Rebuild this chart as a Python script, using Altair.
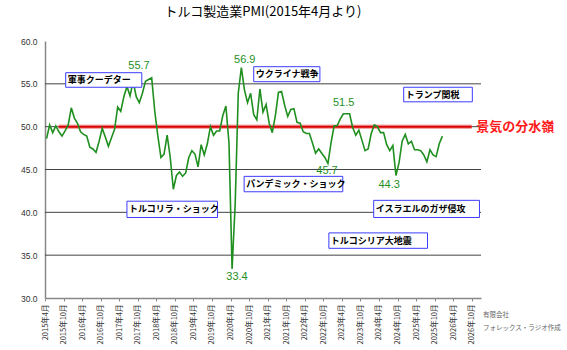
import altair as alt
import pandas as pd

# ---- data (monthly, from 2015年4月) ----
pmi_2015 = [48.6, 50.2, 49.3, 50.1, 49.4, 48.9, 49.5, 50.2, 52.2]
pmi_2016 = [51.0, 50.4, 49.4, 49.1, 48.9, 47.6, 47.4, 47.0, 48.3, 49.8, 48.8, 47.7]
pmi_2017 = [48.7, 49.7, 52.3, 51.8, 53.5, 54.7, 53.6, 55.3, 53.5, 52.8, 53.9, 55.3]
pmi_2018 = [55.5, 55.7, 51.8, 48.9, 46.4, 46.8, 49.0, 46.4, 42.7, 44.3, 44.7, 44.2]
pmi_2019 = [44.6, 46.4, 47.2, 46.8, 45.3, 47.9, 46.7, 48.0, 50.0, 49.0, 49.5, 49.5]
pmi_2020 = [51.3, 52.4, 48.1, 33.4, 40.9, 53.9, 56.9, 54.3, 52.8, 53.9, 51.4, 50.8]
pmi_2021 = [54.4, 51.7, 52.6, 50.4, 49.3, 51.3, 54.0, 54.1, 52.5, 51.2, 52.0, 52.1]
pmi_2022 = [50.5, 50.4, 49.4, 49.2, 49.2, 48.1, 46.9, 47.4, 46.9, 46.4, 45.7, 48.1]
pmi_2023 = [50.1, 50.1, 50.9, 51.5, 51.5, 51.5, 49.9, 49.0, 49.6, 48.4, 47.2, 47.4]
pmi_2024 = [49.2, 50.2, 50.0, 49.3, 49.3, 47.9, 47.2, 47.8, 44.3, 45.8, 48.3, 49.1]
pmi_2025 = [48.0, 48.3, 47.3, 47.3, 47.2, 46.7, 45.9, 47.3, 46.7, 46.5, 48.0, 48.9]

tick_labels = [
    "2015年4月", "2015年10月", "2016年4月", "2016年10月", "2017年4月", "2017年10月",
    "2018年4月", "2018年10月", "2019年4月", "2019年10月", "2020年4月", "2020年10月",
    "2021年4月", "2021年10月", "2022年4月", "2022年10月", "2023年4月", "2023年10月",
    "2024年4月", "2024年10月", "2025年4月", "2025年10月", "2026年4月", "2026年10月",
]
y_ticks = [30, 35, 40, 45, 50, 55, 60]
grid_values = [35, 40, 45, 50, 55]

# value callouts (month index, value position, text)
callout_month = [30.4, 64.6, 62.1, 96.6, 91.2, 111.3]
callout_pos = [57.1, 57.8, 32.5, 52.8, 44.8, 43.2]
callout_text = ["55.7", "56.9", "33.4", "51.5", "45.7", "44.3"]

# event boxes
event_text = ["軍事クーデター", "ウクライナ戦争", "トランプ関税", "トルコリラ・ショック",
              "パンデミック・ショック", "イスラエルのガザ侵攻", "トルコシリア大地震"]
event_m1 = [6.7, 67.5, 116.0, 26.5, 64.4, 106.3, 91.8]
event_m2 = [31.3, 88.9, 138.2, 55.8, 96.3, 140.5, 123.7]
event_v1 = [54.6, 55.25, 52.9, 39.4, 42.4, 39.4, 35.8]
event_v2 = [56.3, 57.0, 54.6, 41.3, 44.2, 41.4, 37.6]

threshold = 50
threshold_start, threshold_end = 4.4, 138.0
threshold_label = "景気の分水嶺"
credit_lines = ["有限会社", "フォレックス・ラジオ作成"]

FONT = "Noto Sans CJK JP"

values = (pmi_2015 + pmi_2016 + pmi_2017 + pmi_2018 + pmi_2019 + pmi_2020 +
          pmi_2021 + pmi_2022 + pmi_2023 + pmi_2024 + pmi_2025)
months = pd.period_range("2015-04", periods=len(values), freq="M")
df = pd.DataFrame({
    "m": [i + 0.5 for i in range(len(values))],
    "pmi": values,
    "label": [f"{p.year}年{p.month}月" for p in months],
})
df_call = pd.DataFrame({"m": callout_month, "v": callout_pos, "t": callout_text})
df_ev = pd.DataFrame({"m1": event_m1, "m2": event_m2, "v1": event_v1, "v2": event_v2,
                      "t": event_text})
df_ev["tv"] = (df_ev["v1"] + df_ev["v2"]) / 2
df_grid = pd.DataFrame({"v": grid_values})
df_thr = pd.DataFrame({"m1": [threshold_start], "m2": [threshold_end], "v": [threshold],
                       "lm": [139.5], "t": [threshold_label]})

xscale = alt.Scale(domain=[0, 141], nice=False, zero=False)
yscale = alt.Scale(domain=[30, 60], nice=False, zero=False)

label_arr = "[" + ",".join(f"'{t}'" for t in tick_labels) + "]"
xaxis = alt.Axis(values=list(range(0, 139, 6)), labelExpr=f"{label_arr}[round(datum.value/6)]",
                 labelAngle=270, labelAlign="right", labelBaseline="middle",
                 labelFontSize=7.5, labelFont=FONT, labelColor="#333", labelPadding=3,
                 tickSize=3, tickColor="#888", domainColor="#888", domainWidth=1.5,
                 grid=False, title=None, labelOverlap=False, labelFlush=False, labelBound=False)
yaxis = alt.Axis(values=y_ticks, format=".1f", grid=False, ticks=False, domainColor="#888",
                 domainWidth=1.5, labelFontSize=8.5, labelFont="Liberation Sans",
                 labelColor="#333", labelPadding=8, title=None, labelOverlap=False)


def X(field):
    return alt.X(field, type="quantitative", scale=xscale, axis=xaxis)


def Y(field):
    return alt.Y(field, type="quantitative", scale=yscale, axis=yaxis)


grid = alt.Chart(df_grid).mark_rule(color="#444", strokeWidth=1).encode(
    y=Y("v")
)
thr_halo = alt.Chart(df_thr).mark_rule(color="#f4a6a6", strokeWidth=4.5).encode(
    x=X("m1"), x2="m2", y=Y("v")
)
thr = alt.Chart(df_thr).mark_rule(color="#d80000", strokeWidth=2).encode(
    x=X("m1"), x2="m2", y=Y("v")
)
thr_text = alt.Chart(df_thr).mark_text(color="#ff1a1a", fontSize=13, font=FONT, align="left",
                                       baseline="middle", fontWeight="bold").encode(
    x=X("lm"), y=Y("v"), text="t:N"
)
line = alt.Chart(df).mark_line(color="#1f8f1f", strokeWidth=1.6).encode(
    x=X("m"), y=Y("pmi")
)
calls = alt.Chart(df_call).mark_text(color="#1f8f1f", fontSize=11, font="Liberation Sans",
                                     baseline="middle").encode(
    x=X("m"), y=Y("v"), text="t:N"
)
boxes = alt.Chart(df_ev).mark_rect(fill="white", stroke="#3c3cff", strokeWidth=1).encode(
    x=X("m1"), x2="m2", y=Y("v1"), y2="v2"
)
box_text = alt.Chart(df_ev).mark_text(fontSize=9, font=FONT, fontWeight="bold", color="black",
                                      align="left", baseline="middle", dx=2).encode(
    x=X("m1"), y=Y("tv"), text="t:N"
)
credit1 = alt.Chart(pd.DataFrame({"t": [credit_lines[0]]})).mark_text(
    fontSize=6.5, font=FONT, color="#666", align="left", baseline="middle"
).encode(x=alt.value(438), y=alt.value(274), text="t:N")
credit2 = alt.Chart(pd.DataFrame({"t": [credit_lines[1]]})).mark_text(
    fontSize=6.5, font=FONT, color="#666", align="left", baseline="middle"
).encode(x=alt.value(438), y=alt.value(287), text="t:N")

chart = alt.layer(grid, thr_halo, thr, line, calls, boxes, box_text, thr_text,
                  credit1, credit2).properties(
    width=436, height=257,
    title=alt.TitleParams("トルコ製造業PMI(2015年4月より)", fontSize=13, font=FONT,
                          fontWeight="normal", anchor="middle", offset=18, color="black"),
    autosize=alt.AutoSizeParams(type="none"),
    padding={"left": 45, "top": 41, "right": 86, "bottom": 52},
    background="white",
).configure_view(stroke=None)

chart.save("out.html", embed_options={"renderer": "svg", "actions": False})
